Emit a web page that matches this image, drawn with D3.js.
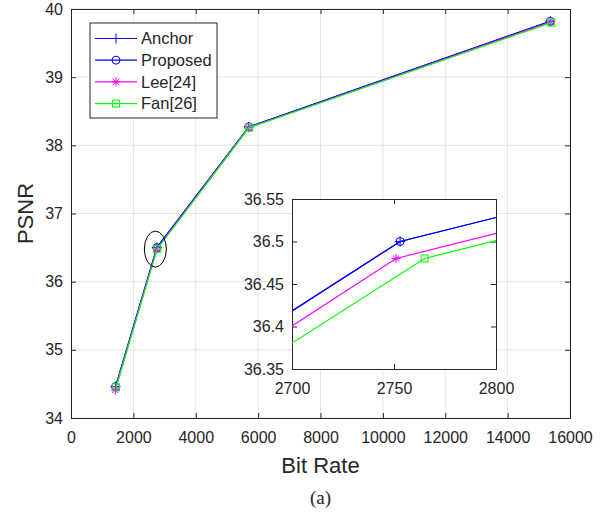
<!DOCTYPE html>
<html>
<head>
<meta charset="utf-8">
<script src="https://cdn.jsdelivr.net/npm/d3@7"></script>
<style>
  body { margin: 0; background: #fff; }
  text { font-family: "Liberation Sans", Arial, sans-serif; fill: #262626; }
</style>
</head>
<body>
<svg id="chart" width="613" height="516"></svg>
<script>
// data
var anchorX = [1430, 2753, 5700, 15370];
var anchorY = [34.46, 36.50, 38.27, 39.82];
var proposedX = [1430, 2753, 5700, 15370];
var proposedY = [34.46, 36.50, 38.27, 39.82];
var leeX = [1420, 2751, 5700, 15380];
var leeY = [34.41, 36.48, 38.26, 39.81];
var fanX = [1440, 2765, 5710, 15400];
var fanY = [34.45, 36.48, 38.26, 39.80];

var xTicks = [0, 2000, 4000, 6000, 8000, 10000, 12000, 14000, 16000];
var yTicks = [34, 35, 36, 37, 38, 39, 40];
var insetXTicks = [2700, 2750, 2800];
var insetYTicks = [36.35, 36.4, 36.45, 36.5, 36.55];

var series = [
  {name: 'Anchor', xs: anchorX, ys: anchorY, color: '#0000ff', marker: 'plus'},
  {name: 'Proposed', xs: proposedX, ys: proposedY, color: '#0000ff', marker: 'circle'},
  {name: 'Lee[24]', xs: leeX, ys: leeY, color: '#ff00ff', marker: 'star'},
  {name: 'Fan[26]', xs: fanX, ys: fanY, color: '#00ff00', marker: 'square'}
];

var svg = d3.select('#chart');
var AXCOL = '#262626';
var MAIN = {left: 71, right: 570, top: 9, bottom: 418};
var INSET = {left: 292, right: 496, top: 199, bottom: 369};

function drawMarker(g, kind, x, y, color) {
  if (kind == 'plus') {
    g.append('path').attr('d', 'M' + (x - 5) + ',' + y + 'H' + (x + 5) + 'M' + x + ',' + (y - 5) + 'V' + (y + 5))
      .attr('stroke', color).attr('fill', 'none');
  } else if (kind == 'circle') {
    g.append('circle').attr('cx', x).attr('cy', y).attr('r', 4)
      .attr('stroke', color).attr('fill', 'none');
  } else if (kind == 'star') {
    var d = '';
    for (var k = 0; k < 4; k++) {
      var a = k * Math.PI / 4;
      d += 'M' + (x - 4.5 * Math.cos(a)) + ',' + (y - 4.5 * Math.sin(a)) + 'L' + (x + 4.5 * Math.cos(a)) + ',' + (y + 4.5 * Math.sin(a));
    }
    g.append('path').attr('d', d).attr('stroke', color).attr('fill', 'none');
  } else if (kind == 'square') {
    g.append('rect').attr('x', x - 3.5).attr('y', y - 3.5).attr('width', 7).attr('height', 7)
      .attr('stroke', color).attr('fill', 'none');
  }
}

function drawAxes(box, xDomain, yDomain, xt, yt, fmtY, grid, clipId) {
  var x = d3.scaleLinear().domain(xDomain).range([box.left, box.right]);
  var y = d3.scaleLinear().domain(yDomain).range([box.bottom, box.top]);
  var g = svg.append('g');
  g.append('rect').attr('x', box.left).attr('y', box.top)
    .attr('width', box.right - box.left).attr('height', box.bottom - box.top).attr('fill', '#fff');

  if (grid) {
    g.selectAll('.gx').data(xt).enter().append('line')
      .attr('x1', d => x(d)).attr('x2', d => x(d)).attr('y1', box.top).attr('y2', box.bottom)
      .attr('stroke', '#e5e5e5');
    g.selectAll('.gy').data(yt).enter().append('line')
      .attr('y1', d => y(d)).attr('y2', d => y(d)).attr('x1', box.left).attr('x2', box.right)
      .attr('stroke', '#e5e5e5');
  }

  var xAxis = d3.axisBottom(x).tickValues(xt).tickSize(-5).tickPadding(14).tickFormat(d3.format('d'));
  var xAxisTop = d3.axisTop(x).tickValues(xt).tickSize(-5).tickFormat('');
  var yAxis = d3.axisLeft(y).tickValues(yt).tickSize(-5).tickPadding(8).tickFormat(fmtY);
  var yAxisRight = d3.axisRight(y).tickValues(yt).tickSize(-5).tickFormat('');

  [[xAxis, 'translate(0,' + box.bottom + ')'], [xAxisTop, 'translate(0,' + box.top + ')'],
   [yAxis, 'translate(' + box.left + ',0)'], [yAxisRight, 'translate(' + box.right + ',0)']].forEach(function (a) {
    var ga = g.append('g').attr('transform', a[1]).call(a[0]);
    ga.select('.domain').attr('stroke', AXCOL);
    ga.selectAll('.tick line').attr('stroke', AXCOL);
    ga.selectAll('.tick text').style('font-size', '16px').attr('fill', AXCOL)
      .style('font-family', '"Liberation Sans", Arial, sans-serif');
  });

  svg.append('clipPath').attr('id', clipId).append('rect')
    .attr('x', box.left).attr('y', box.top).attr('width', box.right - box.left).attr('height', box.bottom - box.top);

  var line = d3.line().x(d => x(d[0])).y(d => y(d[1]));
  var gl = g.append('g').attr('clip-path', 'url(#' + clipId + ')');
  // plot order as in the original: later series sit on top
  series.forEach(function (s) {
    var pts = s.xs.map((v, i) => [v, s.ys[i]]);
    gl.append('path').datum(pts).attr('d', line).attr('fill', 'none')
      .attr('stroke', s.color).attr('stroke-width', 1.2);
    pts.forEach(function (p) { drawMarker(gl, s.marker, x(p[0]), y(p[1]), s.color); });
  });
  return {x: x, y: y};
}

var main = drawAxes(MAIN, [0, 16000], [34, 40], xTicks, yTicks, d3.format('d'), true, 'clipMain');

// ellipse around the zoomed region
svg.append('ellipse')
  .attr('cx', main.x(anchorX[1]) - 1.5).attr('cy', main.y(anchorY[1]) + 1.5)
  .attr('rx', 11).attr('ry', 18)
  .attr('fill', 'none').attr('stroke', '#000').attr('stroke-width', 1);

drawAxes(INSET, [2700, 2800], [36.35, 36.55], insetXTicks, insetYTicks, d => d3.format('.2~f')(d), false, 'clipInset');

// axis labels
svg.append('text').attr('x', (MAIN.left + MAIN.right) / 2).attr('y', 473)
  .attr('text-anchor', 'middle').style('font-size', '22px').text('Bit Rate');
svg.append('text').attr('transform', 'translate(33,' + (MAIN.top + MAIN.bottom) / 2 + ') rotate(-90)')
  .attr('text-anchor', 'middle').style('font-size', '22px').text('PSNR');
svg.append('text').attr('x', (MAIN.left + MAIN.right) / 2).attr('y', 504)
  .attr('text-anchor', 'middle').style('font-size', '19px')
  .style('font-family', '"Liberation Serif", "Times New Roman", serif').attr('fill', '#000').text('(a)');

// legend
var lg = svg.append('g');
lg.append('rect').attr('x', 90).attr('y', 23).attr('width', 127).attr('height', 95)
  .attr('fill', '#fff').attr('stroke', AXCOL).attr('stroke-width', 1);
series.forEach(function (s, i) {
  var yy = 38.5 + i * 21.7;
  lg.append('line').attr('x1', 95).attr('x2', 137).attr('y1', yy).attr('y2', yy)
    .attr('stroke', s.color).attr('stroke-width', 1.2);
  drawMarker(lg, s.marker, 116, yy, s.color);
  lg.append('text').attr('x', 141).attr('y', yy).attr('dy', '0.35em')
    .style('font-size', '16.5px').text(s.name);
});
</script>
</body>
</html>
